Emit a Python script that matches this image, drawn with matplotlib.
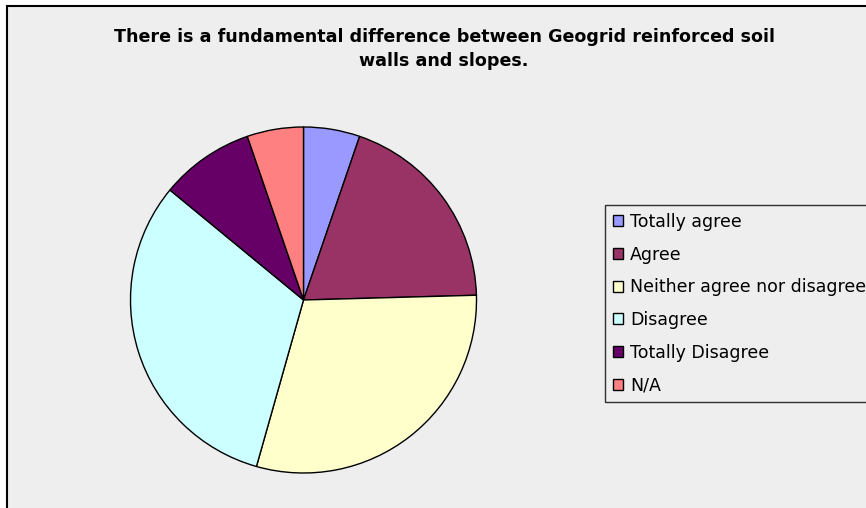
import matplotlib
matplotlib.use('Agg')
import matplotlib.pyplot as plt
from matplotlib.patches import Rectangle

# answers to the survey question (counts)
labels = ['Totally agree', 'Agree', 'Neither agree nor disagree',
          'Disagree', 'Totally Disagree', 'N/A']
counts = [3, 11, 17, 18, 5, 3]
colors = ['#9999FF', '#993366', '#FFFFCC', '#CCFFFF', '#660066', '#FF8080']

title = ('There is a fundamental difference between Geogrid reinforced soil\n'
         'walls and slopes.')

W, H = 866, 508
fig = plt.figure(figsize=(W / 100, H / 100), dpi=100)
fig.patch.set_facecolor('white')

# grey chart area with a black border (right and bottom edges cut off)
fig.patches.append(Rectangle((7 / W, -0.1), 1.2, (H - 6) / H + 0.1,
                             transform=fig.transFigure, facecolor='#EEEEEE',
                             edgecolor='black', linewidth=1.5, zorder=-10))

fig.text(444 / W, 1 - 49 / H, title, ha='center', va='center',
         fontsize=12.6, fontweight='bold', linespacing=1.5)

cx, cy, r = 303.5, 300, 173
ax = fig.add_axes([(cx - r) / W, (H - cy - r) / H, 2 * r / W, 2 * r / H])
wedges, _ = ax.pie(counts, colors=colors, startangle=90, counterclock=False,
                   wedgeprops=dict(edgecolor='black', linewidth=1))
ax.set_xlim(-1, 1)
ax.set_ylim(-1, 1)
ax.set_aspect('equal')
ax.axis('off')

leg = fig.legend(wedges, labels, loc='upper left',
                 bbox_to_anchor=(605 / W, 1 - 205 / H),
                 fontsize=12.5, frameon=True, fancybox=False,
                 handlelength=0.6, handleheight=0.6, handletextpad=0.4,
                 labelspacing=0.85, borderpad=0.45, borderaxespad=0)
leg.get_frame().set_edgecolor('black')
leg.get_frame().set_facecolor('#EEEEEE')
leg.get_frame().set_linewidth(1)

plt.savefig('out.png', dpi=100)
